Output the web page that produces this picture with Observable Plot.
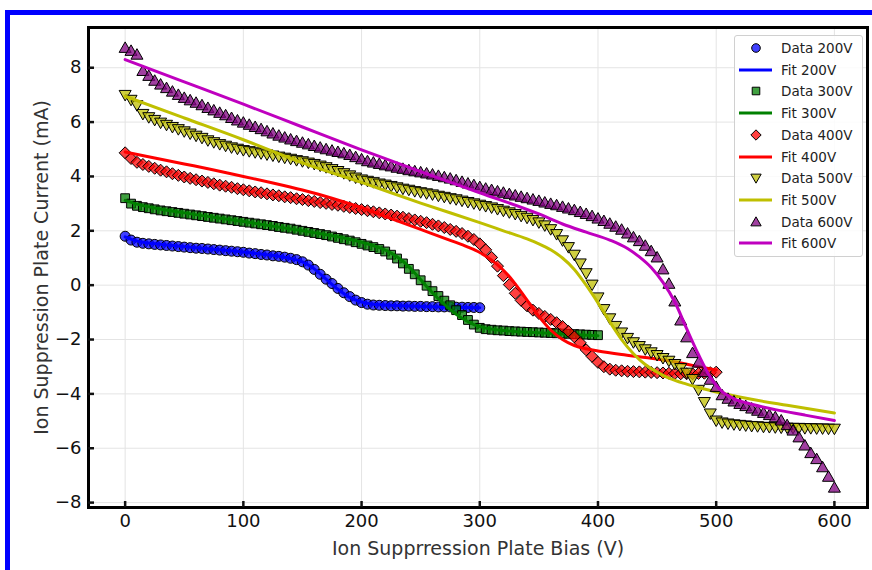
<!DOCTYPE html>
<html><head><meta charset="utf-8">
<script src="https://cdn.jsdelivr.net/npm/d3@7"></script>
<script src="https://cdn.jsdelivr.net/npm/@observablehq/plot@0.6"></script>
<style>
body{margin:0;background:#fff;}
#wrap{position:relative;width:872px;height:570px;overflow:hidden;background:#fff;font-family:"DejaVu Sans",sans-serif;}
#border{position:absolute;left:5px;top:10px;width:900px;height:600px;border-left:5px solid #0000ff;border-top:5px solid #0000ff;box-sizing:border-box;}
#chart{position:absolute;left:0;top:0;}
#legend{position:absolute;left:734px;top:35px;width:129px;height:222px;border:1px solid #d0d0d0;border-radius:3px;background:rgba(255,255,255,0.85);box-sizing:border-box;}
.row{position:absolute;left:0;height:20px;width:128px;font-size:13.5px;color:#222;line-height:20px;}
.row svg{position:absolute;left:0;top:0;}
.row span{position:absolute;left:46px;top:0;white-space:nowrap;}
</style></head>
<body>
<div id="wrap"><div id="chart"></div><div id="border"></div><div id="legend"></div></div>
<script>
// ---- data ----
const bias = [0,5,10,15,20,25,30,35,40,45,50,55,60,65,70,75,80,85,90,95,
100,105,110,115,120,125,130,135,140,145,150,155,160,165,170,175,180,185,190,195,
200,205,210,215,220,225,230,235,240,245,250,255,260,265,270,275,280,285,290,295,
300,305,310,315,320,325,330,335,340,345,350,355,360,365,370,375,380,385,390,395,
400,405,410,415,420,425,430,435,440,445,450,455,460,465,470,475,480,485,490,495,
500,505,510,515,520,525,530,535,540,545,550,555,560,565,570,575,580,585,590,595,600];

const cur200 = [1.80,1.66,1.58,1.54,1.52,1.50,1.48,1.46,1.44,1.42,
1.40,1.38,1.36,1.35,1.33,1.31,1.29,1.27,1.25,1.23,
1.21,1.18,1.16,1.13,1.11,1.08,1.06,1.03,0.99,0.94,
0.86,0.74,0.58,0.40,0.22,0.06,-0.12,-0.28,-0.42,-0.55,
-0.64,-0.70,-0.73,-0.74,-0.75,-0.76,-0.76,-0.77,-0.77,-0.78,
-0.78,-0.79,-0.79,-0.80,-0.80,-0.80,-0.81,-0.81,-0.82,-0.82,-0.83];

const cur300 = [3.20,3.00,2.92,2.87,2.83,2.79,2.75,2.72,2.69,2.66,
2.63,2.60,2.57,2.54,2.51,2.48,2.45,2.42,2.39,2.36,
2.33,2.30,2.27,2.24,2.21,2.18,2.14,2.11,2.08,2.04,
2.00,1.96,1.92,1.88,1.84,1.79,1.74,1.69,1.64,1.58,
1.52,1.46,1.40,1.33,1.24,1.12,0.98,0.80,0.60,0.40,
0.18,-0.02,-0.22,-0.40,-0.57,-0.74,-0.92,-1.10,-1.28,-1.45,
-1.57,-1.62,-1.64,-1.66,-1.67,-1.69,-1.70,-1.71,-1.72,-1.73,
-1.74,-1.75,-1.76,-1.77,-1.78,-1.79,-1.80,-1.81,-1.82,-1.83,-1.84];

const cur400 = [4.87,4.66,4.52,4.44,4.37,4.30,4.23,4.17,4.10,4.04,
3.98,3.93,3.88,3.83,3.78,3.73,3.68,3.64,3.60,3.55,
3.51,3.47,3.43,3.40,3.36,3.32,3.29,3.25,3.22,3.18,
3.15,3.11,3.08,3.04,3.01,2.97,2.94,2.90,2.86,2.82,
2.78,2.74,2.70,2.66,2.62,2.58,2.54,2.50,2.45,2.40,
2.35,2.30,2.24,2.18,2.12,2.05,1.98,1.90,1.80,1.68,
1.52,1.30,1.02,0.70,0.35,0.02,-0.30,-0.56,-0.76,-0.92,
-1.04,-1.15,-1.26,-1.38,-1.52,-1.70,-1.90,-2.12,-2.38,-2.62,
-2.84,-3.00,-3.09,-3.13,-3.15,-3.17,-3.18,-3.19,-3.20,-3.21,
-3.22,-3.23,-3.24,-3.25,-3.26,-3.26,-3.26,-3.25,-3.24,-3.22,-3.20];

const cur500 = [7.00,6.82,6.62,6.30,6.18,6.08,5.98,5.90,5.82,5.74,
5.66,5.58,5.50,5.42,5.33,5.26,5.19,5.13,5.07,5.02,
4.97,4.93,4.89,4.85,4.81,4.77,4.73,4.69,4.65,4.60,
4.56,4.51,4.46,4.40,4.34,4.27,4.20,4.12,4.04,3.96,
3.89,3.84,3.79,3.74,3.70,3.65,3.60,3.55,3.51,3.46,
3.42,3.38,3.34,3.29,3.25,3.20,3.16,3.11,3.06,3.01,
2.96,2.91,2.86,2.80,2.74,2.68,2.62,2.55,2.48,2.40,
2.31,2.20,2.06,1.88,1.65,1.40,1.12,0.80,0.44,0.02,
-0.45,-0.88,-1.22,-1.50,-1.74,-1.94,-2.10,-2.24,-2.36,-2.47,
-2.57,-2.68,-2.78,-2.90,-3.05,-3.22,-3.45,-3.85,-4.30,-4.72,
-4.98,-5.05,-5.09,-5.12,-5.14,-5.16,-5.18,-5.19,-5.21,-5.22,
-5.23,-5.24,-5.24,-5.25,-5.25,-5.26,-5.26,-5.27,-5.27,-5.28,-5.28];

const cur600 = [8.73,8.62,8.48,7.88,7.70,7.52,7.38,7.25,7.12,7.00,
6.89,6.80,6.71,6.62,6.52,6.43,6.34,6.25,6.15,6.06,
5.98,5.90,5.82,5.74,5.66,5.58,5.50,5.43,5.36,5.30,
5.24,5.18,5.12,5.06,5.00,4.95,4.90,4.85,4.79,4.71,
4.63,4.56,4.51,4.46,4.41,4.37,4.32,4.28,4.23,4.19,
4.15,4.11,4.07,4.02,3.97,3.92,3.86,3.80,3.74,3.68,
3.61,3.55,3.50,3.45,3.40,3.35,3.30,3.25,3.20,3.15,
3.10,3.04,2.99,2.94,2.88,2.82,2.76,2.69,2.62,2.54,
2.45,2.36,2.26,2.15,2.04,1.90,1.76,1.62,1.45,1.25,
1.02,0.58,0.05,-0.60,-1.30,-1.92,-2.50,-2.85,-3.20,-3.48,
-3.75,-4.05,-4.18,-4.28,-4.37,-4.45,-4.54,-4.62,-4.70,-4.78,
-4.86,-4.98,-5.15,-5.35,-5.60,-5.90,-6.18,-6.40,-6.70,-7.05,-7.45];

const fitV200 = [0,10,20,40,60,80,100,120,140,150,160,170,180,190,200,210,230,260,300];
const fit200  = [1.78,1.62,1.55,1.46,1.38,1.30,1.22,1.12,0.98,0.86,0.60,0.22,-0.15,-0.45,-0.62,-0.70,-0.75,-0.79,-0.83];
const fitV300 = [0,10,25,50,100,150,180,200,215,225,235,245,255,265,275,285,295,305,320,350,400];
const fit300  = [3.12,2.98,2.84,2.66,2.34,2.00,1.78,1.58,1.38,1.18,0.88,0.45,-0.05,-0.50,-0.90,-1.22,-1.45,-1.58,-1.67,-1.75,-1.86];
const fitV400 = [0,25,50,75,100,125,150,175,200,225,250,275,290,300,310,320,330,340,350,360,370,380,390,400,420,440,460,480,500];
const fit400  = [4.90,4.68,4.46,4.24,4.00,3.76,3.50,3.20,2.85,2.45,2.05,1.65,1.40,1.20,0.92,0.55,0.05,-0.55,-1.15,-1.65,-2.00,-2.22,-2.34,-2.42,-2.55,-2.66,-2.78,-2.95,-3.12];
const fitV500 = [0,50,100,150,200,250,300,320,340,350,360,370,380,390,400,410,420,430,440,450,460,475,490,500,530,560,600];
const fit500  = [6.95,6.15,5.35,4.50,3.78,3.02,2.30,2.00,1.70,1.52,1.30,1.00,0.58,0.00,-0.65,-1.35,-2.00,-2.52,-2.92,-3.20,-3.42,-3.64,-3.82,-3.93,-4.20,-4.42,-4.70];
const fitV600 = [0,50,100,150,200,250,300,350,370,390,410,425,435,445,455,465,475,485,495,505,515,530,550,575,600];
const fit600  = [8.30,7.48,6.66,5.82,4.98,4.18,3.40,2.62,2.25,1.95,1.66,1.35,1.04,0.65,0.10,-0.62,-1.60,-2.55,-3.38,-3.92,-4.18,-4.38,-4.58,-4.78,-4.98];

const xTicks = [0,100,200,300,400,500,600];
const yTicks = [-8,-6,-4,-2,0,2,4,6,8];
const xLabel = "Ion Supprression Plate Bias (V)";
const yLabel = "Ion Suppression Plate Current (mA)";

// ---- symbols ----
const circleSym = {draw(c, size){const h=Math.sqrt(size/Math.PI); c.moveTo(h,0); c.arc(0,0,h,0,2*Math.PI);}};
const squareSym = {draw(c, size){const h=Math.sqrt(size/Math.PI)*0.88; c.rect(-h,-h,2*h,2*h);}};
const diamondSym = {draw(c, size){const h=Math.sqrt(size/Math.PI)*1.2; c.moveTo(0,-h); c.lineTo(h,0); c.lineTo(0,h); c.lineTo(-h,0); c.closePath();}};
const triUpSym = {draw(c, size){const h=Math.sqrt(size/Math.PI)*1.2; c.moveTo(0,-h); c.lineTo(h,h*0.75); c.lineTo(-h,h*0.75); c.closePath();}};
const triDownSym = {draw(c, size){const h=Math.sqrt(size/Math.PI)*1.2; c.moveTo(0,h); c.lineTo(h,-h*0.75); c.lineTo(-h,-h*0.75); c.closePath();}};

const series = [
  {name:"200V", cur:cur200, fv:fitV200, fit:fit200, fill:"#0000ff", line:"#0000ff", sym:circleSym},
  {name:"300V", cur:cur300, fv:fitV300, fit:fit300, fill:"#008000", line:"#008000", sym:squareSym},
  {name:"400V", cur:cur400, fv:fitV400, fit:fit400, fill:"#ff0000", line:"#ff0000", sym:diamondSym},
  {name:"500V", cur:cur500, fv:fitV500, fit:fit500, fill:"#bfbf00", line:"#bfbf00", sym:triDownSym},
  {name:"600V", cur:cur600, fv:fitV600, fit:fit600, fill:"#800080", line:"#bf00bf", sym:triUpSym}
];

const R = 5;
const marks = [
  Plot.gridX(xTicks, {stroke:"#e4e4e4", strokeOpacity:1, strokeWidth:1}),
  Plot.gridY(yTicks, {stroke:"#e4e4e4", strokeOpacity:1, strokeWidth:1})
];
for (const s of series) {
  const pts = s.cur.map((c,i)=>({v:bias[i], c}));
  const fpts = s.fit.map((c,i)=>({v:s.fv[i], c}));
  marks.push(Plot.dot(pts, {x:"v", y:"c", symbol:s.sym, r:R, fill:s.fill, fillOpacity:0.75, stroke:"#000", strokeWidth:1}));
  marks.push(Plot.line(fpts, {x:"v", y:"c", stroke:s.line, strokeWidth:3, curve:"monotone-x"}));
}
marks.push(
  Plot.frame({stroke:"#000", strokeWidth:3}),
  Plot.axisX({ticks:xTicks, tickSize:-6, tickPadding:13, strokeWidth:2.5, fontSize:18, label:null, tickFormat:d=>d3.format("d")(d)}),
  Plot.axisY({ticks:yTicks, tickSize:-6, tickPadding:13, strokeWidth:2.5, fontSize:18, label:null, tickFormat:d=>d<0?"\u2212"+Math.abs(d):String(d)}),
  Plot.text([yLabel], {text:d=>d, frameAnchor:"left", textAnchor:"middle", lineAnchor:"middle", dx:-47, rotate:-90, fontSize:19, fill:"#333"}),
  Plot.text([xLabel], {text:d=>d, frameAnchor:"bottom", textAnchor:"middle", lineAnchor:"middle", dy:41, fontSize:19, fill:"#333"})
);

const chart = Plot.plot({
  width:872, height:570,
  marginLeft:88, marginRight:5, marginTop:27, marginBottom:63,
  x:{domain:[-31,628]},
  y:{domain:[-8.18,9.48]},
  style:{fontFamily:"DejaVu Sans, sans-serif", color:"#111", background:"transparent"},
  marks
});
document.getElementById("chart").appendChild(chart);

// ---- legend ----
const legend = document.getElementById("legend");
const rowTops = [12,33.7,55.4,77.1,98.8,120.5,142.2,163.9,185.6,207.3];
let k = 0;
for (const s of series) {
  for (const kind of ["Data","Fit"]) {
    const row = document.createElement("div");
    row.className = "row";
    row.style.top = (rowTops[k] - 10) + "px";
    const svg = d3.create("svg").attr("width",44).attr("height",20);
    if (kind === "Data") {
      const p = d3.path(); s.sym.draw(p, Math.PI*4.3*4.3);
      svg.append("path").attr("d", p.toString()).attr("transform","translate(21,10)")
        .attr("fill", s.fill).attr("fill-opacity",0.75).attr("stroke","#000").attr("stroke-width",1);
    } else {
      svg.append("line").attr("x1",4).attr("x2",37).attr("y1",10).attr("y2",10)
        .attr("stroke", s.line).attr("stroke-width",3);
    }
    row.appendChild(svg.node());
    const span = document.createElement("span");
    span.textContent = kind + " " + s.name;
    row.appendChild(span);
    legend.appendChild(row);
    k++;
  }
}
</script>
</body></html>
